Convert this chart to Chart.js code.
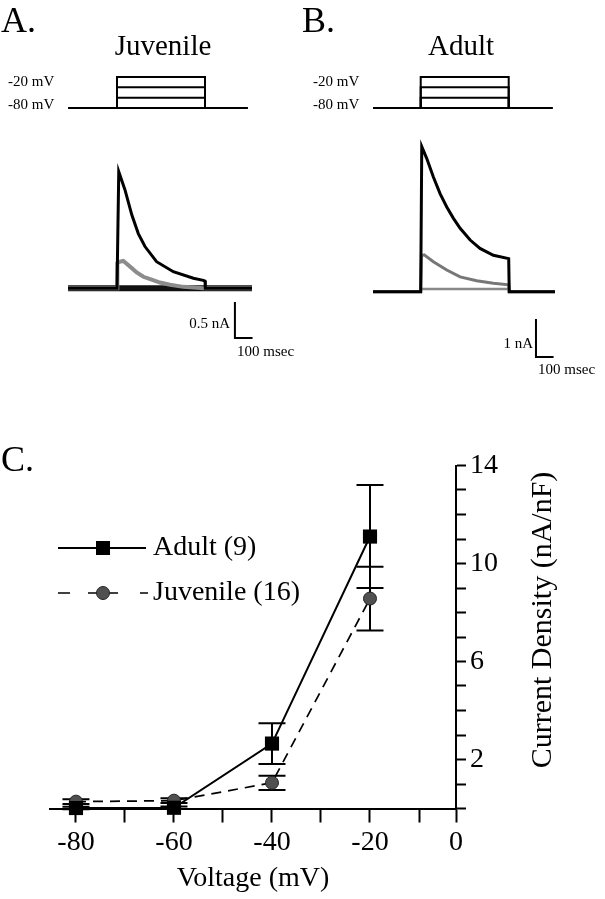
<!DOCTYPE html>
<html>
<head>
<meta charset="utf-8">
<script src="https://cdn.jsdelivr.net/npm/chart.js@4.4.0/dist/chart.umd.min.js"></script>
<style>
  html, body { margin: 0; padding: 0; background: #fff; }
  #page { position: relative; width: 605px; height: 899px; overflow: hidden;
          font-family: 'Liberation Serif', 'Times New Roman', serif; color: #000; }
  canvas { position: absolute; }
  .t { position: absolute; line-height: 1; white-space: nowrap; transform: translateY(-50%); }
  .t.c { transform: translate(-50%, -50%); }
  .t.r { transform: translate(-100%, -50%); }
</style>
</head>
<body>
<div id="page">
  <canvas id="chartA" width="302" height="400" style="left:0;top:0"></canvas>
  <canvas id="chartB" width="303" height="400" style="left:302px;top:0"></canvas>
  <canvas id="chartC" width="605" height="459" style="left:0;top:440px"></canvas>

  <div class="t" style="left:1px;top:20px;font-size:36px">A.</div>
  <div class="t c" style="left:163px;top:45px;font-size:29px">Juvenile</div>
  <div class="t" style="left:8px;top:81px;font-size:15px">-20 mV</div>
  <div class="t" style="left:8px;top:104px;font-size:15px">-80 mV</div>
  <div class="t r" style="left:230px;top:323px;font-size:15px">0.5 nA</div>
  <div class="t" style="left:237px;top:351px;font-size:15px">100 msec</div>

  <div class="t" style="left:302px;top:20px;font-size:36px">B.</div>
  <div class="t c" style="left:461px;top:45px;font-size:29px">Adult</div>
  <div class="t" style="left:313px;top:81px;font-size:15px">-20 mV</div>
  <div class="t" style="left:313px;top:104px;font-size:15px">-80 mV</div>
  <div class="t r" style="left:533px;top:343px;font-size:15px">1 nA</div>
  <div class="t" style="left:538px;top:369px;font-size:15px">100 msec</div>

  <div class="t" style="left:1px;top:459px;font-size:36px">C.</div>
</div>

<script>
Chart.defaults.font.family = "'Liberation Serif', 'Times New Roman', serif";
Chart.defaults.color = '#000';

// ── voltage protocol (ms, mV) ──
const holdingPotential = -80;
const stepLevels = [-60, -40, -20];
const stepDuration = 500;
const protocolSpanA = [-278, 744];
const protocolSpanB = [-271, 751];

// ── juvenile current traces, panel A (ms, nA) ──
const juvTime20 = [-278, 0, 10, 45, 84, 121, 159, 225, 320, 434, 490, 500, 502, 767];
const juvCurrent20 = [0, 0, 1.62, 1.37, 1.02, 0.76, 0.58, 0.37, 0.23, 0.14, 0.11, 0.1, 0, 0];
const juvTime40 = [-278, 0, 2, 17, 36, 55, 84, 112, 150, 197, 244, 301, 377, 490, 767];
const juvCurrent40 = [0, 0, 0.35, 0.37, 0.38, 0.34, 0.28, 0.22, 0.16, 0.12, 0.08, 0.05, 0.02, 0, 0];
const juvTime60 = [-278, 767];
const juvCurrent60 = [0, 0];

// ── adult current traces, panel B (ms, nA) ──
const adultTime20 = [-271, 0, 6, 34, 72, 110, 148, 186, 224, 281, 337, 413, 500, 503, 763];
const adultCurrent20 = [0, 0, 3.82, 3.51, 3.02, 2.58, 2.23, 1.93, 1.67, 1.36, 1.14, 0.96, 0.87, 0, 0];
const adultTime40 = [-271, 0, 4, 20, 72, 148, 224, 318, 413, 500, 503, 763];
const adultCurrent40 = [0, 0, 0.95, 0.97, 0.79, 0.57, 0.39, 0.29, 0.22, 0.18, 0, 0];
const adultTime60 = [-271, 0, 3, 500, 503, 763];
const adultCurrent60 = [0, 0, 0.07, 0.07, 0, 0];

// scale bars: corner (time, current) and size
const scaleBarA = { t: 670, i: -0.69, dt: 100, di: 0.5 };
const scaleBarB = { t: 655, i: -1.72, dt: 100, di: 1 };

// ── panel C: I-V relation ──
const voltage = [-80, -60, -40, -20];
const adultMean = [0.02, 0.03, 2.65, 11.1];
const adultSem = [0.05, 0.05, 0.83, 2.1];
const juvMean = [0.28, 0.32, 1.05, 8.57];
const juvSem = [0.1, 0.1, 0.29, 1.3];
const xTicks = [-80, -70, -60, -50, -40, -30, -20, -10, -2.45];
const xTickLabels = ['-80', '', '-60', '', '-40', '', '-20', '', '0'];
const yTicks = [0, 1, 2, 3, 4, 5, 6, 7, 8, 9, 10, 11, 12, 13, 14];
const yTickLabels = ['', '', '2', '', '', '', '6', '', '', '', '10', '', '', '', '14'];

const pts = (xs, ys) => xs.map((x, i) => ({ x, y: ys[i] }));

// value range that puts v0 at pixel p0 and v1 at pixel p1 on an axis `size` px long
function spanFor(p0, v0, p1, v1, size) {
  const k = (v1 - v0) / (p1 - p0);
  const a = v0 - p0 * k, b = v0 + (size - p0) * k;
  return { min: Math.min(a, b), max: Math.max(a, b) };
}

function protocolSets(span) {
  const sets = [{ data: pts(span, [holdingPotential, holdingPotential]) }];
  stepLevels.forEach(v => sets.push({
    data: pts([0, 0, stepDuration, stepDuration], [holdingPotential, v, v, holdingPotential]),
  }));
  return sets.map(s => ({ ...s, yAxisID: 'yv', borderColor: '#000', borderWidth: 2,
    borderJoinStyle: 'miter', clip: false }));
}

function scaleBarSet(b) {
  return {
    data: pts([b.t, b.t, b.t + b.dt], [b.i + b.di, b.i, b.i]),
    borderColor: '#000', borderWidth: 2, borderJoinStyle: 'miter', clip: false,
  };
}

function traceChart(id, xs, ys, yv, datasets) {
  return new Chart(document.getElementById(id), {
    type: 'line',
    data: { datasets },
    options: {
      responsive: false,
      animation: false,
      layout: { padding: 0 },
      plugins: { legend: { display: false }, tooltip: { enabled: false } },
      elements: { point: { radius: 0 }, line: { tension: 0 } },
      scales: {
        x: { type: 'linear', display: false, ...xs },
        y: { type: 'linear', display: false, ...ys },
        yv: { type: 'linear', display: false, ...yv },
      },
    },
  });
}

// ── panel A ──
traceChart('chartA',
  spanFor(117, 0, 205, stepDuration, 302),
  spanFor(288.3, 0, 252.3, 0.5, 400),
  spanFor(108, -80, 77, -20, 400),
  [
    { data: pts(juvTime20, juvCurrent20), borderColor: '#000', borderWidth: 3, clip: false },
    { data: pts(juvTime40, juvCurrent40), borderColor: '#8c8c8c', borderWidth: 4, clip: false },
    { data: pts(juvTime60, juvCurrent60), borderColor: '#111', borderWidth: 6, clip: false },
    scaleBarSet(scaleBarA),
    ...protocolSets(protocolSpanA),
  ]);

// ── panel B ──
traceChart('chartB',
  spanFor(118.7, 0, 206.7, stepDuration, 303),
  spanFor(291.7, 0, 253.7, 1, 400),
  spanFor(108, -80, 77, -20, 400),
  [
    { data: pts(adultTime20, adultCurrent20), borderColor: '#000', borderWidth: 3, clip: false },
    { data: pts(adultTime40, adultCurrent40), borderColor: '#777', borderWidth: 3, clip: false },
    { data: pts(adultTime60, adultCurrent60), borderColor: '#888', borderWidth: 2.5, clip: false },
    scaleBarSet(scaleBarB),
    ...protocolSets(protocolSpanB),
  ]);

// ── panel C plugins ──
const errorBars = {
  id: 'errorBars',
  beforeDatasetsDraw(chart) {
    const { ctx, scales: { x, y } } = chart;
    ctx.save();
    ctx.strokeStyle = '#000';
    ctx.lineWidth = 2;
    chart.data.datasets.forEach(ds => {
      ds.data.forEach((p, i) => {
        const px = x.getPixelForValue(p.x);
        const top = y.getPixelForValue(p.y + ds.sem[i]);
        const bot = y.getPixelForValue(p.y - ds.sem[i]);
        ctx.beginPath();
        ctx.moveTo(px, top); ctx.lineTo(px, bot);
        ctx.moveTo(px - 13.5, top); ctx.lineTo(px + 13.5, top);
        ctx.moveTo(px - 13.5, bot); ctx.lineTo(px + 13.5, bot);
        ctx.stroke();
      });
    });
    ctx.restore();
  },
};

const sampleLegend = {
  id: 'sampleLegend',
  afterDraw(chart) {
    const ctx = chart.ctx;
    const [adult, juv] = chart.data.datasets;
    ctx.save();
    ctx.strokeStyle = '#000';
    ctx.lineWidth = 2;
    ctx.beginPath(); ctx.moveTo(58, 108); ctx.lineTo(146, 108); ctx.stroke();
    ctx.fillStyle = '#000';
    ctx.fillRect(96, 101, 14, 14);
    ctx.lineWidth = 1.5;
    [[58, 70], [88, 98], [108, 118], [140, 148]].forEach(([a, b]) => {
      ctx.beginPath(); ctx.moveTo(a, 153); ctx.lineTo(b, 153); ctx.stroke();
    });
    ctx.beginPath(); ctx.arc(103, 153, 6.5, 0, Math.PI * 2);
    ctx.fillStyle = '#505050'; ctx.fill();
    ctx.lineWidth = 1; ctx.strokeStyle = '#222'; ctx.stroke();
    ctx.fillStyle = '#000';
    ctx.font = "28px 'Liberation Serif', serif";
    ctx.textBaseline = 'middle';
    ctx.textAlign = 'left';
    ctx.fillText(adult.label, 153, 108);
    ctx.fillText(juv.label, 153, 153);
    ctx.restore();
  },
};

const yTitle = {
  id: 'yTitle',
  afterDraw(chart) {
    const ctx = chart.ctx;
    ctx.save();
    ctx.translate(543, 180);
    ctx.rotate(-Math.PI / 2);
    ctx.font = "30px 'Liberation Serif', serif";
    ctx.fillStyle = '#000';
    ctx.textAlign = 'center';
    ctx.textBaseline = 'middle';
    ctx.fillText('Current Density (nA/nF)', 0, 0);
    ctx.restore();
  },
};

// ── panel C ──
new Chart(document.getElementById('chartC'), {
  type: 'line',
  data: {
    datasets: [
      {
        label: 'Adult (9)', data: pts(voltage, adultMean), sem: adultSem,
        borderColor: '#000', borderWidth: 2, pointStyle: 'rect', pointRadius: 10,
        pointBackgroundColor: '#000', pointBorderWidth: 0, clip: false,
      },
      {
        label: 'Juvenile (16)', data: pts(voltage, juvMean), sem: juvSem,
        borderColor: '#000', borderWidth: 1.7, borderDash: [10, 7], pointStyle: 'circle',
        pointRadius: 6.5, pointBackgroundColor: '#505050', pointBorderColor: '#222',
        pointBorderWidth: 1, clip: false,
      },
    ],
  },
  options: {
    responsive: false,
    animation: false,
    layout: { padding: { left: 50, top: 25.5, right: 0, bottom: 0 } },
    plugins: { legend: { display: false }, tooltip: { enabled: false } },
    elements: { line: { tension: 0 } },
    scales: {
      x: {
        type: 'linear', min: -85.3, max: -2.45,
        afterBuildTicks: s => { s.ticks = xTicks.map(v => ({ value: v })); },
        afterFit: s => { s.height = 90.5; },
        ticks: { autoSkip: false, maxRotation: 0, padding: 3, font: { size: 28 },
          callback: (v, i) => xTickLabels[i] },
        grid: { drawOnChartArea: false, tickLength: 14, tickWidth: 2, color: '#000' },
        border: { display: true, color: '#000', width: 2 },
        title: { display: true, text: 'Voltage (mV)', font: { size: 28 }, padding: { top: 0, bottom: 4 } },
      },
      y: {
        type: 'linear', position: 'right', min: 0, max: 14,
        afterBuildTicks: s => { s.ticks = yTicks.map(v => ({ value: v })); },
        afterFit: s => { s.width = 149; },
        ticks: { autoSkip: false, padding: 4, font: { size: 28 },
          callback: (v, i) => yTickLabels[i] },
        grid: { drawOnChartArea: false, tickLength: 10, tickWidth: 2, color: '#000' },
        border: { display: true, color: '#000', width: 2 },
      },
    },
  },
  plugins: [errorBars, sampleLegend, yTitle],
});
</script>
</body>
</html>
